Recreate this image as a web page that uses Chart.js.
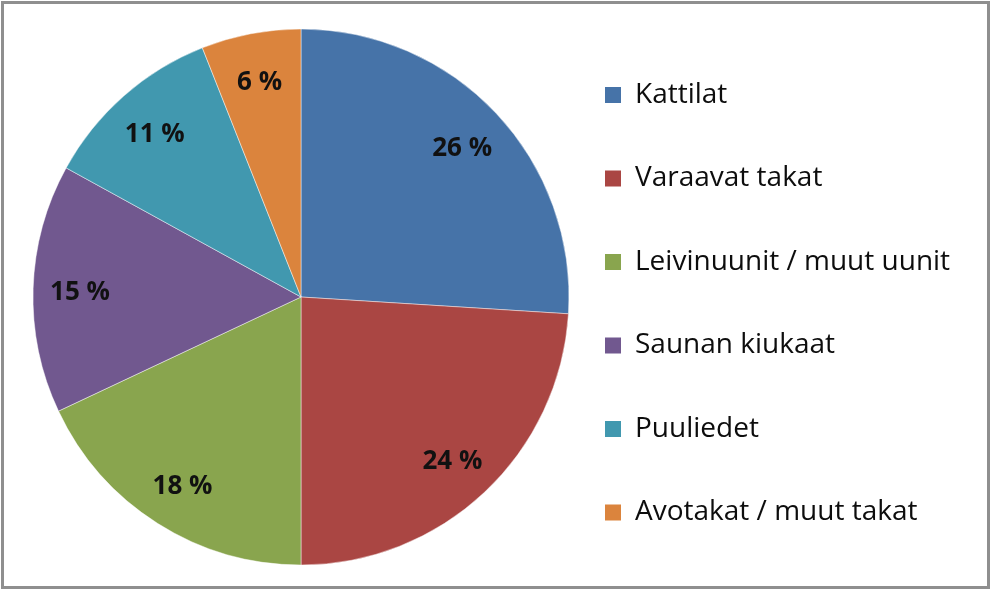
<!DOCTYPE html>
<html>
<head>
<meta charset="utf-8">
<script src="https://cdn.jsdelivr.net/npm/chart.js@4"></script>
<style>
  html, body { margin: 0; padding: 0; background: #ffffff; }
  #frame { position: absolute; left: 1px; top: 1px; width: 989px; height: 588px; box-sizing: border-box; border: 3px solid #8f8f8f; background: #fff; }
  #wrap { position: absolute; left: 0; top: 0; width: 983px; height: 582px; }
</style>
</head>
<body>
<div id="frame"><div id="wrap"><canvas id="c" width="983" height="582"></canvas></div></div>
<script>
const categories = ['Kattilat', 'Varaavat takat', 'Leivinuunit / muut uunit', 'Saunan kiukaat', 'Puuliedet', 'Avotakat / muut takat'];
const shares = [26, 24, 18, 15, 11, 6];
const sliceColors = ['#4673A8', '#AA4643', '#89A54E', '#71588F', '#4198AF', '#DB843D'];

const LEGEND_FONT = 28;
const LEGEND_PAD = 29.5;
const TARGET_LEGEND_LEFT = 571.5;
const PIE_CX = 297;

const sliceLabels = {
  id: 'sliceLabels',
  afterDatasetsDraw(chart) {
    const ctx = chart.ctx;
    const meta = chart.getDatasetMeta(0);
    ctx.save();
    ctx.font = 'bold 26px "Open Sans"';
    ctx.fillStyle = '#111111';
    ctx.textAlign = 'center';
    ctx.textBaseline = 'middle';
    meta.data.forEach((arc, i) => {
      const p = arc.getProps(['x', 'y', 'startAngle', 'endAngle', 'outerRadius'], true);
      const mid = (p.startAngle + p.endAngle) / 2;
      const r = p.outerRadius * 0.825;
      ctx.fillText(shares[i] + ' %', p.x + Math.cos(mid) * r, p.y + Math.sin(mid) * r + 3);
    });
    ctx.restore();
  }
};

const chart = new Chart(document.getElementById('c'), {
  type: 'pie',
  data: {
    labels: categories,
    datasets: [{
      data: shares,
      backgroundColor: sliceColors,
      borderColor: 'rgba(255,255,255,0.45)',
      borderWidth: 1,
      radius: 268
    }]
  },
  options: {
    responsive: false,
    animation: false,
    layout: { padding: { left: 2 * PIE_CX - TARGET_LEGEND_LEFT, right: 0, top: 4, bottom: 0 } },
    plugins: {
      tooltip: { enabled: false },
      legend: {
        position: 'right',
        title: { display: true, text: '', font: { size: 39.5, lineHeight: 1 }, padding: 0 },
        labels: {
          boxWidth: 16,
          boxHeight: 16,
          padding: LEGEND_PAD,
          color: '#0d0d0d',
          font: { family: '"Open Sans"', size: LEGEND_FONT, lineHeight: 54 / LEGEND_FONT },
          generateLabels(ch) {
            const items = Chart.overrides.pie.plugins.legend.labels.generateLabels(ch);
            items.forEach(it => { it.text = [it.text]; it.lineWidth = 0; });
            return items;
          }
        }
      }
    }
  },
  plugins: [sliceLabels]
});

// align the legend's left edge to the intended position
const d = chart.legend.left - TARGET_LEGEND_LEFT;
chart.options.layout.padding.right += d;
chart.update();
</script>
</body>
</html>
